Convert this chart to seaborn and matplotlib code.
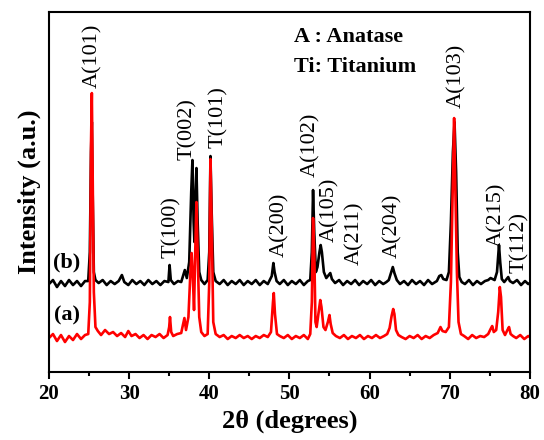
import matplotlib
matplotlib.use("Agg")
import matplotlib.pyplot as plt
from matplotlib.ticker import MultipleLocator
import seaborn as sns
import pandas as pd

# pattern (a): red
two_theta_a = [20.0, 20.5, 21.0, 21.5, 22.0, 22.5, 23.0, 23.5, 24.0, 24.5, 24.9, 25.1, 25.25, 25.35, 25.45, 25.6, 25.8,
               26.1, 26.5, 27.0, 27.5, 28.0, 28.5, 29.0, 29.5, 29.9, 30.3, 30.8, 31.3, 31.8, 32.3, 32.8, 33.3, 33.8,
               34.3, 34.8, 35.0, 35.1, 35.25, 35.5, 36.0, 36.5, 36.9, 37.1, 37.4, 37.65, 37.8, 37.95, 38.1, 38.25,
               38.4, 38.55, 38.75, 39.0, 39.4, 39.8, 40.0, 40.15, 40.3, 40.5, 40.8, 41.3, 41.8, 42.3, 42.8, 43.3,
               43.8, 44.3, 44.8, 45.3, 45.8, 46.3, 46.8, 47.3, 47.7, 47.95, 48.05, 48.2, 48.45, 48.8, 49.3, 49.8,
               50.3, 50.8, 51.3, 51.8, 52.3, 52.6, 52.8, 52.95, 53.1, 53.25, 53.4, 53.65, 53.85, 54.0, 54.25, 54.5,
               54.8, 55.0, 55.15, 55.4, 55.8, 56.3, 56.8, 57.3, 57.8, 58.3, 58.8, 59.3, 59.8, 60.3, 60.8, 61.3,
               61.8, 62.2, 62.5, 62.75, 62.95, 63.1, 63.3, 63.6, 64.0, 64.5, 65.0, 65.5, 66.0, 66.5, 67.0, 67.5,
               68.0, 68.5, 68.85, 69.1, 69.5, 69.9, 70.15, 70.4, 70.55, 70.7, 70.9, 71.1, 71.4, 71.8, 72.3, 72.8,
               73.3, 73.8, 74.3, 74.8, 75.1, 75.3, 75.5, 75.8, 76.05, 76.25, 76.4, 76.6, 76.9, 77.2, 77.4, 77.6,
               77.9, 78.3, 78.8, 79.3, 79.8, 80.0]
intensity_a = [34, 38, 31, 37, 30, 36, 32, 38, 33, 37, 38, 70, 230, 279, 200, 80, 45,
               41, 37, 42, 38, 40, 36, 39, 35, 41, 36, 38, 34, 37, 33, 37, 35, 38,
               34, 37, 45, 55, 40, 36, 38, 39, 54, 42, 55, 100, 119, 95, 62, 120,
               170, 120, 55, 40, 36, 38, 90, 213, 150, 50, 38, 35, 37, 33, 36, 34,
               37, 34, 36, 33, 36, 34, 37, 35, 40, 70, 79, 58, 38, 36, 34, 37,
               33, 36, 34, 37, 33, 38, 70, 154, 120, 50, 45, 60, 72, 65, 45, 42,
               50, 57, 48, 39, 36, 34, 37, 33, 36, 34, 37, 33, 36, 34, 37, 34,
               36, 38, 44, 56, 63, 58, 42, 37, 35, 33, 36, 34, 37, 33, 36, 34,
               37, 39, 45, 41, 40, 45, 90, 190, 254, 185, 100, 50, 38, 36, 33, 37,
               34, 36, 35, 38, 43, 46, 40, 42, 60, 85, 75, 42, 37, 42, 45, 38,
               36, 34, 37, 33, 36, 35]

# pattern (b): black
two_theta_b = [20.0, 20.5, 21.0, 21.5, 22.0, 22.5, 23.0, 23.5, 24.0, 24.5, 24.9, 25.1, 25.25, 25.35, 25.45, 25.6, 25.8,
               26.2, 26.7, 27.2, 27.7, 28.2, 28.7, 29.1, 29.4, 29.9, 30.4, 30.9, 31.4, 31.9, 32.4, 32.9, 33.4, 33.9,
               34.4, 34.9, 35.05, 35.2, 35.6, 36.1, 36.5, 36.95, 37.2, 37.5, 37.75, 37.9, 38.05, 38.15, 38.3, 38.4,
               38.55, 38.75, 39.0, 39.4, 39.8, 40.0, 40.15, 40.3, 40.5, 40.8, 41.3, 41.8, 42.3, 42.8, 43.3, 43.8,
               44.3, 44.8, 45.3, 45.8, 46.3, 46.8, 47.3, 47.8, 48.0, 48.15, 48.4, 48.8, 49.3, 49.8, 50.3, 50.8,
               51.3, 51.8, 52.3, 52.6, 52.8, 52.95, 53.1, 53.3, 53.5, 53.75, 53.9, 54.05, 54.3, 54.6, 54.9, 55.1,
               55.3, 55.7, 56.2, 56.7, 57.2, 57.7, 58.2, 58.7, 59.2, 59.7, 60.2, 60.7, 61.2, 61.7, 62.1, 62.4,
               62.7, 62.9, 63.1, 63.4, 63.8, 64.3, 64.8, 65.3, 65.8, 66.3, 66.8, 67.3, 67.8, 68.4, 68.7, 68.95,
               69.2, 69.6, 69.9, 70.15, 70.4, 70.6, 70.8, 71.0, 71.2, 71.5, 71.9, 72.4, 72.9, 73.4, 73.9, 74.4,
               74.8, 75.1, 75.35, 75.6, 75.9, 76.15, 76.3, 76.5, 76.8, 77.1, 77.3, 77.5, 77.9, 78.4, 78.9, 79.4,
               79.8, 80.0]
intensity_b = [88, 92, 85, 91, 86, 92, 87, 91, 86, 91, 91, 120, 220, 250, 180, 100, 92,
               89, 92, 87, 91, 88, 91, 97, 90, 87, 92, 88, 91, 87, 92, 88, 91, 87,
               91, 90, 107, 92, 88, 91, 90, 102, 94, 110, 180, 212, 150, 130, 180, 204,
               150, 100, 92, 88, 92, 120, 216, 160, 100, 91, 88, 92, 87, 91, 88, 92,
               87, 91, 88, 92, 87, 91, 88, 96, 109, 100, 91, 88, 92, 87, 91, 88,
               92, 87, 91, 92, 120, 182, 140, 100, 105, 120, 127, 120, 100, 94, 97, 99,
               93, 89, 92, 87, 91, 88, 92, 87, 91, 88, 92, 87, 91, 88, 90, 92,
               100, 105, 99, 92, 88, 91, 87, 92, 88, 91, 87, 92, 88, 91, 96, 97,
               93, 92, 100, 150, 220, 250, 200, 120, 95, 90, 88, 92, 87, 91, 88, 91,
               92, 94, 93, 92, 100, 127, 110, 93, 90, 93, 95, 91, 89, 92, 87, 91,
               88, 89]

peak_labels = ["A(101)", "T(100)", "T(002)", "T(101)", "A(200)", "A(102)", "A(105)",
               "A(211)", "A(204)", "A(103)", "A(215)", "T(112)"]
label_x = [25.4, 35.3, 37.3, 41.1, 48.8, 52.6, 55.05, 58.2, 62.9, 70.9, 75.9, 78.75]
label_y = [284, 114, 212, 224, 115, 195, 130, 107, 114, 264, 125, 99]

df_a = pd.DataFrame({"two_theta": two_theta_a, "intensity": intensity_a})
df_b = pd.DataFrame({"two_theta": two_theta_b, "intensity": intensity_b})

sns.set_theme(style="ticks")
plt.rcParams["font.family"] = ["Liberation Serif", "DejaVu Serif"]
plt.rcParams["text.color"] = "black"
plt.rcParams["axes.labelcolor"] = "black"
plt.rcParams["xtick.color"] = "black"
plt.rcParams["axes.linewidth"] = 1.5

fig = plt.figure(figsize=(5.44, 4.40), dpi=100)
ax = fig.add_axes([0.090, 0.1545, 0.884, 0.818])

sns.lineplot(data=df_b, x="two_theta", y="intensity", color="black", lw=1.9, ax=ax)
sns.lineplot(data=df_a, x="two_theta", y="intensity", color="#ff0000", lw=1.9, ax=ax)

for lab, lx, ly in zip(peak_labels, label_x, label_y):
    ax.text(lx, ly, lab, rotation=90, ha="center", va="bottom", fontsize=16, color="black")

ax.text(22.2, 110, "(b)", ha="center", va="center", fontsize=16, fontweight="bold", color="black")
ax.text(22.2, 57, "(a)", ha="center", va="center", fontsize=16, fontweight="bold", color="black")
ax.text(50.6, 335, "A : Anatase", ha="left", va="center", fontsize=16, fontweight="bold", color="black")
ax.text(50.6, 305, "Ti: Titanium", ha="left", va="center", fontsize=16, fontweight="bold", color="black")

ax.set_xlim(20, 80)
ax.set_ylim(0, 360)
ax.xaxis.set_major_locator(MultipleLocator(10))
ax.xaxis.set_minor_locator(MultipleLocator(5))
ax.tick_params(axis="x", which="major", direction="out", length=5, width=1.5, labelsize=15,
               colors="black")
ax.tick_params(axis="x", which="minor", direction="out", length=3, width=1.5, colors="black")
ax.set_yticks([])
for lab in ax.get_xticklabels():
    lab.set_fontweight("bold")
for side in ["top", "right", "left", "bottom"]:
    ax.spines[side].set_visible(True)
    ax.spines[side].set_linewidth(1.5)
    ax.spines[side].set_color("black")

ax.set_xlabel("2θ (degrees)", fontsize=19, fontweight="bold", labelpad=4, color="black")
ax.set_ylabel("Intensity (a.u.)", fontsize=19, fontweight="bold", labelpad=6, color="black")

fig.savefig("out.png", dpi=100)
